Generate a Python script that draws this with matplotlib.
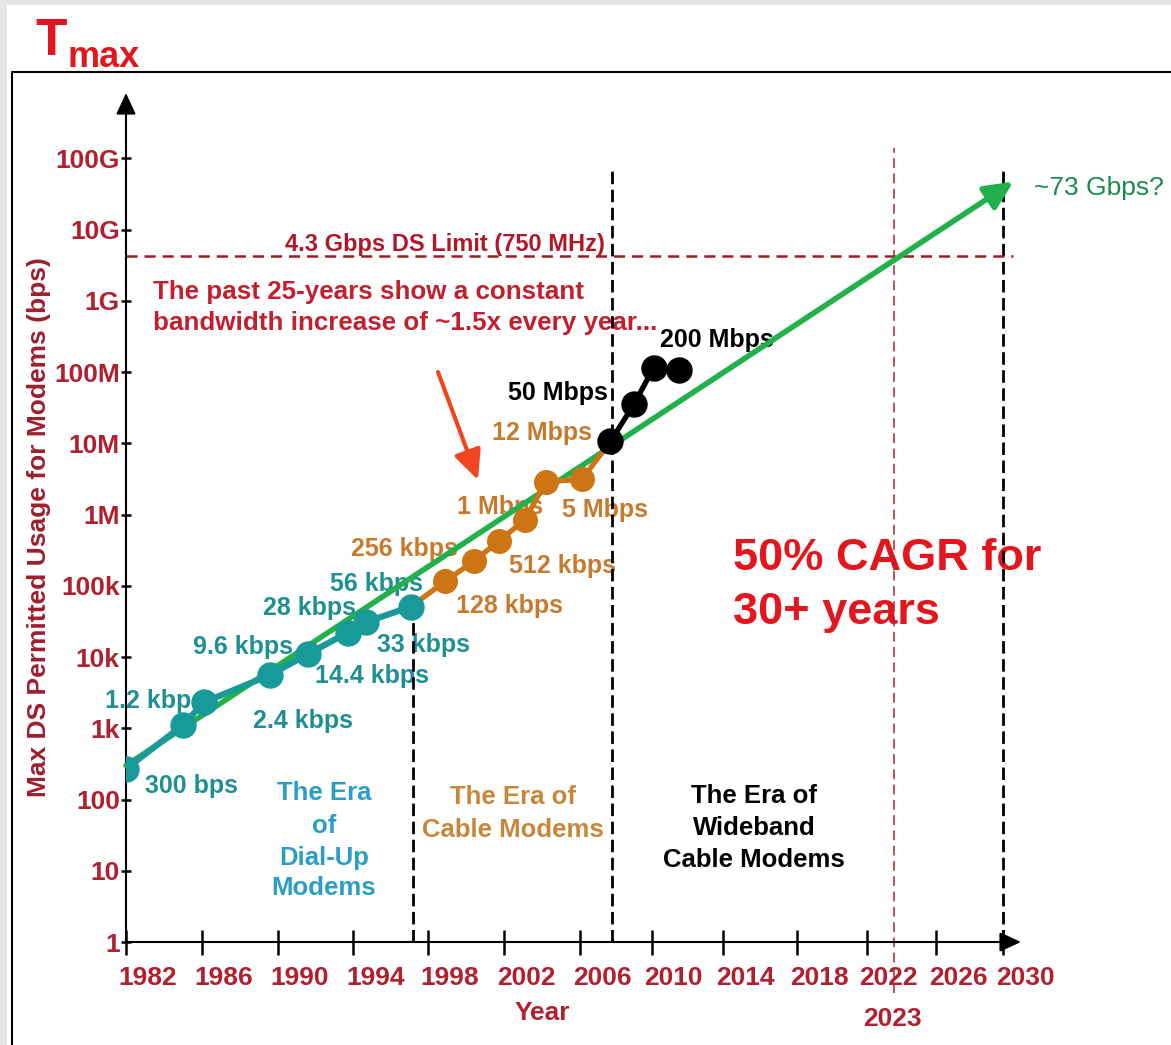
import numpy as np
import matplotlib
matplotlib.use("Agg")
import matplotlib.pyplot as plt
from matplotlib.patches import Rectangle, FancyArrowPatch
from matplotlib.lines import Line2D
from matplotlib.ticker import NullLocator
from matplotlib.transforms import Affine2D, ScaledTranslation

plt.rcParams['font.family'] = ['Liberation Sans', 'DejaVu Sans']
plt.rcParams['font.weight'] = 'bold'
plt.rcParams['lines.scale_dashes'] = False

# ---------------- data ----------------
YEAR_TICKS = [1982, 1986, 1990, 1994, 1998, 2002, 2006, 2010, 2014, 2018, 2022, 2026, 2030]
BPS_TICKS = [1, 10, 100, 1e3, 1e4, 1e5, 1e6, 1e7, 1e8, 1e9, 1e10, 1e11]
BPS_TICK_LABELS = ['1', '10', '100', '1k', '10k', '100k', '1M', '10M', '100M', '1G', '10G', '100G']

DIALUP_YEARS = [1982.0, 1985.0, 1986.1, 1989.6, 1991.6, 1993.7, 1994.7, 1997.1]
DIALUP_BPS = [270, 1100, 2300, 5600, 11000, 22000, 31000, 51000]
DIALUP_LABELS = ['300 bps', '1.2 kbps', '2.4 kbps', '9.6 kbps', '14.4 kbps', '28 kbps', '33 kbps', '56 kbps']

CABLE_YEARS = [1998.9, 2000.4, 2001.7, 2003.1, 2004.2, 2006.1]
CABLE_BPS = [115e3, 220e3, 420e3, 850e3, 2.9e6, 3.1e6]
CABLE_LABELS = ['128 kbps', '256 kbps', '512 kbps', '1 Mbps', '5 Mbps', '12 Mbps']

WIDEBAND_YEARS = [2007.7, 2009.0, 2010.1, 2011.5]
WIDEBAND_BPS = [10.6e6, 35e6, 114e6, 108e6]
WIDEBAND_LABELS = ['50 Mbps', '200 Mbps']

TREND_YEARS = [1982.0, 2030.6]
TREND_BPS = [300, 47e9]
TREND_LABEL = '~73 Gbps?'

DS_LIMIT_BPS = 4.3e9
LIMIT_YEAR = 2023.6
ERA_BOUNDARY_YEARS = [1997.2, 2007.8, 2030.0]
ERA_BOUNDARY_TOP_BPS = [51e3, 73e9, 73e9]

# ---------------- layout ----------------
W, H, DPI = 1171, 1045, 100
# hand-drawn tick spacing along the year axis (pixels from the y axis)
TICK_OFFSETS_PX = [0, 75.7, 151.7, 227.3, 301.7, 378.3, 454.0, 525.7, 597.3, 671.3, 740.7, 810.0, 877.3]

TEAL = '#189a9a'
TEAL_TXT = '#1f8f94'
ORANGE = '#cd7514'
ORANGE_TXT = '#c77a2e'
GREEN = '#21b04b'
DARKRED = '#b0202f'
RED = '#e3161e'

fig = plt.figure(figsize=(W / DPI, H / DPI), dpi=DPI, facecolor='#e6e6e6')
PX = Affine2D().scale(1 / W, -1 / H).translate(0, 1) + fig.transFigure

fig.patches.append(Rectangle((7, 5), W - 7, H - 5, transform=PX, facecolor='white',
                             edgecolor='none', zorder=-10))
fig.add_artist(Line2D([12, 12, W], [H, 72, 72], transform=PX, color='black', lw=1.5))
fig.text(35, 55, 'T', transform=PX, color=RED, fontsize=37, fontweight='bold')
fig.text(67, 67, 'max', transform=PX, color=RED, fontsize=26, fontweight='bold')

ax = fig.add_axes([126 / W, (H - 942) / H, (1021 - 126) / W, (942 - 93) / H])
ax.patch.set_visible(False)

_KX = np.array(YEAR_TICKS, float)
_KP = np.array(TICK_OFFSETS_PX, float)
_S0 = (_KP[1] - _KP[0]) / (_KX[1] - _KX[0])
_S1 = (_KP[-1] - _KP[-2]) / (_KX[-1] - _KX[-2])


def _fwd(x):
    x = np.asarray(x, float)
    return np.where(x < _KX[0], _KP[0] + (x - _KX[0]) * _S0,
                    np.where(x > _KX[-1], _KP[-1] + (x - _KX[-1]) * _S1, np.interp(x, _KX, _KP)))


def _inv(p):
    p = np.asarray(p, float)
    return np.where(p < _KP[0], _KX[0] + (p - _KP[0]) / _S0,
                    np.where(p > _KP[-1], _KX[-1] + (p - _KP[-1]) / _S1, np.interp(p, _KP, _KX)))


ax.set_xscale('function', functions=(_fwd, _inv))
ax.set_yscale('log')
ax.set_xlim(1982, 2031.05)
ax.set_ylim(1, 10 ** 11.916)
for s in ax.spines.values():
    s.set_visible(False)

ax.set_xticks(YEAR_TICKS, [str(y) for y in YEAR_TICKS])
ax.set_yticks(BPS_TICKS, BPS_TICK_LABELS)
ax.xaxis.set_minor_locator(NullLocator())
ax.yaxis.set_minor_locator(NullLocator())
ax.tick_params(axis='x', direction='inout', length=18, width=1.8, color='black',
               labelcolor=DARKRED, labelsize=19, pad=8)
ax.tick_params(axis='y', direction='inout', length=7, width=1.8, color='black',
               labelcolor=DARKRED, labelsize=19, pad=1)
off = ScaledTranslation(0.22, 0, fig.dpi_scale_trans)
for lab in ax.get_xticklabels():
    lab.set_transform(lab.get_transform() + off)
    lab.set_fontweight('bold')
for lab in ax.get_yticklabels():
    lab.set_fontweight('bold')

# axis arrows
for xy in [(1, 0), (0, 1)]:
    ax.annotate('', xy=xy, xytext=(0, 0), xycoords='axes fraction', textcoords='axes fraction',
                arrowprops=dict(arrowstyle='-|>,head_length=0.65,head_width=0.3', mutation_scale=20,
                                color='black', lw=1.5, shrinkA=0, shrinkB=0), annotation_clip=False)

# dashed reference lines
for yr, top in zip(ERA_BOUNDARY_YEARS, ERA_BOUNDARY_TOP_BPS):
    ax.plot([yr, yr], [1, top], color='black', lw=2.0, ls=(0, (9, 4)), zorder=2)
ax.plot([LIMIT_YEAR, LIMIT_YEAR], [0.19, 1.4e11], color=DARKRED, lw=1.1, ls=(0, (7, 4)),
        zorder=2, clip_on=False)
ax.plot([YEAR_TICKS[0], TREND_YEARS[1]], [DS_LIMIT_BPS, DS_LIMIT_BPS], color='#9c1c28', lw=1.8,
        ls=(0, (8, 5)), zorder=2)

# trend arrow
ax.add_patch(FancyArrowPatch((TREND_YEARS[0], TREND_BPS[0]), (TREND_YEARS[1], TREND_BPS[1]),
                             transform=ax.transData,
                             arrowstyle='-|>,head_length=0.85,head_width=0.4', mutation_scale=20,
                             color=GREEN, lw=4.0, shrinkA=0, shrinkB=0, zorder=3, clip_on=False))

# series
ax.plot([DIALUP_YEARS[-1]] + CABLE_YEARS + [WIDEBAND_YEARS[0]],
        [DIALUP_BPS[-1]] + CABLE_BPS + [WIDEBAND_BPS[0]], color=ORANGE, lw=3.8, zorder=4)
ax.plot(CABLE_YEARS, CABLE_BPS, 'o', color=ORANGE, ms=17, zorder=4.5)
ax.plot(DIALUP_YEARS, DIALUP_BPS, '-o', color=TEAL, lw=4.5, ms=18, zorder=5)
ax.plot(WIDEBAND_YEARS, WIDEBAND_BPS, '-o', color='black', lw=3.8, ms=18, zorder=6)

# red pointer arrow
ax.add_patch(FancyArrowPatch((438, 372), (478, 480), transform=PX,
                             arrowstyle='-|>,head_length=0.9,head_width=0.42', mutation_scale=20,
                             color='#f0461e', lw=3.0, shrinkA=0, shrinkB=0, zorder=3, clip_on=False))

# point labels (left edge px, baseline px)
DIALUP_POS = [(145, 793), (105, 708), (253, 728), (193, 654), (315, 683), (263, 615), (377, 652), (330, 591)]
CABLE_POS = [(456, 613), (351, 556), (509, 573), (457, 514), (562, 517), (492, 440)]
WIDEBAND_POS = [(508, 400), (660, 347)]
for labs, pos, col in [(DIALUP_LABELS, DIALUP_POS, TEAL_TXT), (CABLE_LABELS, CABLE_POS, ORANGE_TXT),
                       (WIDEBAND_LABELS, WIDEBAND_POS, 'black')]:
    for t, (x, y) in zip(labs, pos):
        ax.text(x, y, t, transform=PX, color=col, fontsize=18, fontweight='bold',
                ha='left', va='baseline', zorder=1)

ax.text(1034, 195, TREND_LABEL, transform=PX, color='#1c8a4c', fontsize=19, fontweight='normal',
        ha='left', va='baseline', zorder=1)
ax.text(605, 251, '4.3 Gbps DS Limit (750 MHz)', transform=PX, color='#b0182a', fontsize=17,
        fontweight='bold', ha='right', va='baseline', zorder=1)
for t, y in [('The past 25-years show a constant', 299),
             ('bandwidth increase of ~1.5x every year...', 330)]:
    ax.text(153, y, t, transform=PX, color='#c21f2f', fontsize=18.7, fontweight='bold',
            ha='left', va='baseline', zorder=1)
for t, y in [('50% CAGR for', 570), ('30+ years', 624)]:
    ax.text(733, y, t, transform=PX, color=RED, fontsize=32.5, fontweight='bold',
            ha='left', va='baseline', zorder=1)

for t, y in zip(['The Era', 'of', 'Dial-Up', 'Modems'], [800, 833, 865, 895]):
    ax.text(324, y, t, transform=PX, color='#2a9ec4', fontsize=18.5, ha='center', va='baseline', zorder=1)
for t, y in zip(['The Era of', 'Cable Modems'], [804, 837]):
    ax.text(513, y, t, transform=PX, color='#c8863a', fontsize=18.5, ha='center', va='baseline', zorder=1)
for t, y in zip(['The Era of', 'Wideband', 'Cable Modems'], [803, 835, 867]):
    ax.text(754, y, t, transform=PX, color='black', fontsize=18.5, ha='center', va='baseline', zorder=1)

ax.text(542, 1020, 'Year', transform=PX, color=DARKRED, fontsize=19, ha='center', va='baseline')
ax.text(892, 1026, '2023', transform=PX, color=DARKRED, fontsize=19, ha='center', va='baseline')
fig.text(39, 527, 'Max DS Permitted Usage for Modems (bps)', transform=PX, color='#9c1f2c',
         fontsize=19, fontweight='bold', rotation=90, ha='center', va='center')

fig.savefig('out.png', dpi=DPI, facecolor=fig.get_facecolor())
